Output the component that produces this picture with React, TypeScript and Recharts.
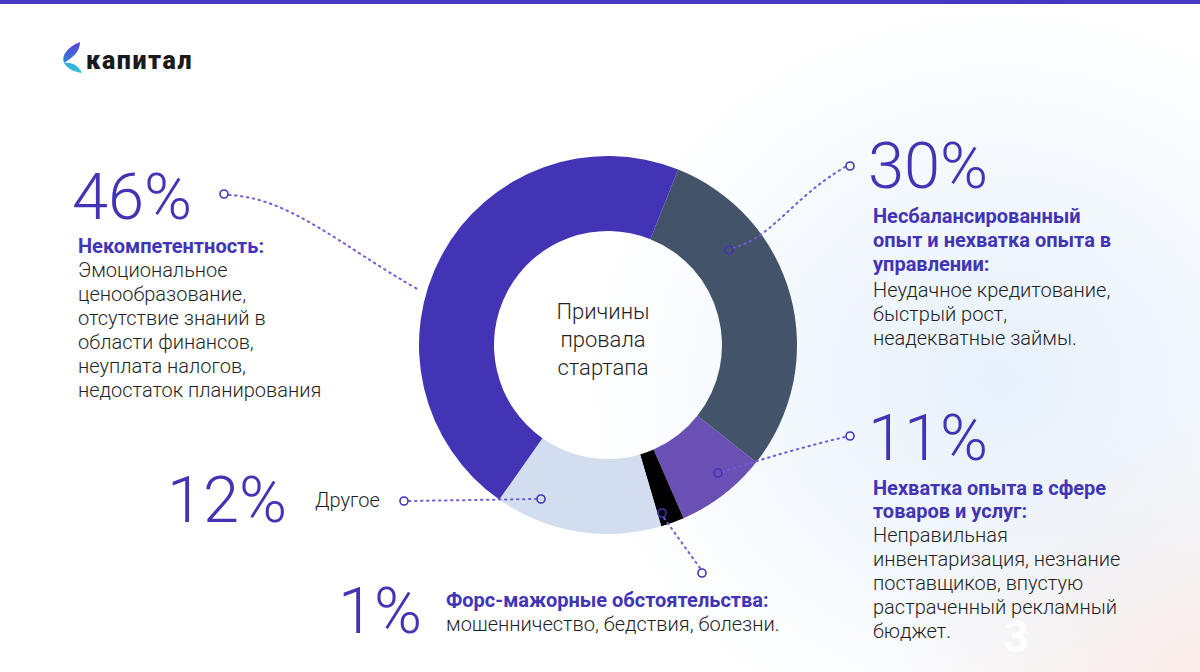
import { Cell, Pie, PieChart } from "recharts";

// Причины провала стартапа: доли секторов так, как они нарисованы (%)
const categories = ["Несбалансированный опыт", "Нехватка опыта в сфере товаров", "Форс-мажор", "Другое", "Некомпетентность"];
const shares = [29.6, 7.8, 2.0, 14.3, 46.3];
const sliceColors = ["#435369", "#6a4fb5", "#000000", "#d2deef", "#4234b5"];

const data = categories.map((name, i) => ({ name, value: shares[i] }));

const PURPLE = "#4234b5";
const DOT = "#6e5fd3";
const BODY = "#1f1f1f";
const FONT = "Roboto, 'Noto Sans', sans-serif";

const Lines = ({ x, y, lines, step, size, weight, color }: any) => (
  <text x={x} y={y} fontSize={size} fontWeight={weight} fill={color} fontFamily={FONT}>
    {lines.map((l: string, i: number) => (
      <tspan key={i} x={x} dy={i === 0 ? 0 : step}>{l}</tspan>
    ))}
  </text>
);

const Big = ({ x, y, children }: any) => (
  <text x={x} y={y} fontSize={65} fontWeight={300} fill={PURPLE} fontFamily={FONT}>{children}</text>
);

const Ring = ({ x, y }: any) => <circle cx={x} cy={y} r={4} fill="none" stroke={PURPLE} strokeWidth={1.6} />;

const dotted = { fill: "none", stroke: DOT, strokeWidth: 2, strokeDasharray: "1.5 4.5", strokeLinecap: "round" as const };

export default function App() {
  return (
    <div
      style={{
        position: "fixed",
        left: 0,
        top: 0,
        width: 1200,
        height: 672,
        overflow: "hidden",
        background:
          "radial-gradient(ellipse 420px 380px at 1000px 380px, rgba(222,236,250,0.75), rgba(255,255,255,0) 100%), radial-gradient(ellipse 320px 260px at 1200px 672px, rgba(253,228,220,0.7), rgba(255,255,255,0) 100%), #ffffff",
      }}
    >
      <div style={{ position: "absolute", left: 0, top: 0, width: 1200, height: 4, background: "#4638c0" }} />

      <div style={{ position: "absolute", left: 0, top: 0 }}>
        <PieChart width={1200} height={672}>
          <Pie
            data={data}
            dataKey="value"
            nameKey="name"
            cx={603}
            cy={340}
            innerRadius={114}
            outerRadius={189}
            startAngle={68.2}
            endAngle={-291.8}
            stroke="none"
            isAnimationActive={false}
          >
            {data.map((d, i) => (
              <Cell key={d.name} fill={sliceColors[i]} />
            ))}
          </Pie>
        </PieChart>
      </div>

      <svg width={1200} height={672} style={{ position: "absolute", left: 0, top: 0, pointerEvents: "none" }}>
        <defs>
          <linearGradient id="leafTop" x1="0" y1="0" x2="0" y2="1">
            <stop offset="0%" stopColor="#5b3fd6" />
            <stop offset="100%" stopColor="#2f86d8" />
          </linearGradient>
          <linearGradient id="leafBot" x1="0" y1="0" x2="1" y2="1">
            <stop offset="0%" stopColor="#2aa9dc" />
            <stop offset="100%" stopColor="#3fc6d8" />
          </linearGradient>
        </defs>

        {/* logo */}
        <path d="M80 42 C67 47 61 56 64 63 C72 58 80 52 80 42 Z" fill="url(#leafTop)" />
        <path d="M64 63 C68 69 74 72 82 73 C79 66 72 62 64 63 Z" fill="url(#leafBot)" />
        <text x={86} y={69} fontSize={25} fontWeight={900} fill="#1a1a1a" fontFamily={FONT} letterSpacing={1.6}>капитал</text>

        {/* center caption */}
        <text x={603} y={319} fontSize={22} fontWeight={300} fill={BODY} fontFamily={FONT} textAnchor="middle">
          <tspan x={603} dy={0}>Причины</tspan>
          <tspan x={603} dy={28}>провала</tspan>
          <tspan x={603} dy={28}>стартапа</tspan>
        </text>

        {/* connectors */}
        <path d="M229 195 C290 198 340 245 419 290" {...dotted} />
        <Ring x={224} y={194} />

        <path d="M733 248 C772 238 792 198 845 167" {...dotted} />
        <Ring x={729} y={250} />
        <Ring x={850} y={166} />

        <path d="M722 472 Q790 450 845 437" {...dotted} />
        <Ring x={718} y={473} />
        <Ring x={850} y={436} />

        <path d="M409 501 L536 499" {...dotted} />
        <Ring x={404} y={501} />
        <Ring x={541} y={499} />

        <path d="M664 518 L700 568" {...dotted} />
        <Ring x={662} y={513} />
        <Ring x={702} y={573} />

        {/* 46% */}
        <Big x={72} y={219}>46%</Big>
        <Lines x={78} y={253} lines={["Некомпетентность:"]} step={24} size={20} weight={700} color={PURPLE} />
        <Lines
          x={78}
          y={277}
          lines={["Эмоциональное", "ценообразование,", "отсутствие знаний в", "области финансов,", "неуплата налогов,", "недостаток планирования"]}
          step={24}
          size={20}
          weight={300}
          color={BODY}
        />

        {/* 30% */}
        <Big x={868} y={188}>30%</Big>
        <Lines
          x={873}
          y={223}
          lines={["Несбалансированный", "опыт и нехватка опыта в", "управлении:"]}
          step={24}
          size={20}
          weight={700}
          color={PURPLE}
        />
        <Lines
          x={873}
          y={297}
          lines={["Неудачное кредитование,", "быстрый рост,", "неадекватные займы."]}
          step={24}
          size={20}
          weight={300}
          color={BODY}
        />

        {/* 11% */}
        <Big x={868} y={460}>11%</Big>
        <Lines x={873} y={495} lines={["Нехватка опыта в сфере", "товаров и услуг:"]} step={23} size={20} weight={700} color={PURPLE} />
        <Lines
          x={873}
          y={542}
          lines={["Неправильная", "инвентаризация, незнание", "поставщиков, впустую", "растраченный рекламный", "бюджет."]}
          step={24}
          size={20}
          weight={300}
          color={BODY}
        />
        <text x={1016} y={652} fontSize={44} fontWeight={700} fill="#ffffff" fontFamily={FONT} textAnchor="middle">3</text>

        {/* 12% */}
        <Big x={167} y={522}>12%</Big>
        <Lines x={315} y={507} lines={["Другое"]} step={24} size={20} weight={300} color={BODY} />

        {/* 1% */}
        <Big x={338} y={633}>1%</Big>
        <Lines x={446} y={607} lines={["Форс-мажорные обстоятельства:"]} step={24} size={20} weight={700} color={PURPLE} />
        <Lines x={446} y={631} lines={["мошенничество, бедствия, болезни."]} step={24} size={20} weight={300} color={BODY} />
      </svg>
    </div>
  );
}
